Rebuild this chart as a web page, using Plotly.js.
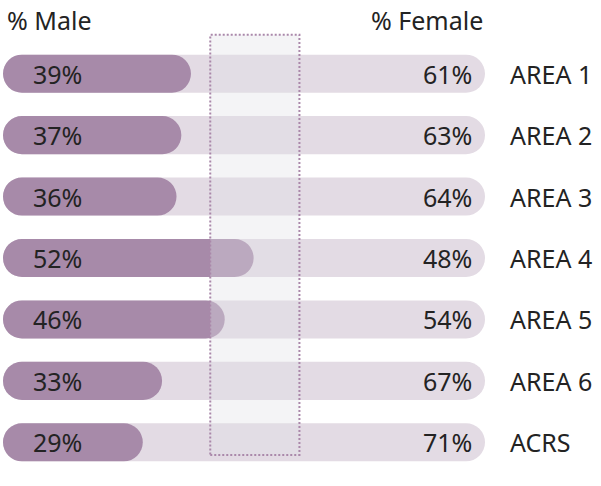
<!DOCTYPE html>
<html>
<head>
<meta charset="utf-8">
<script src="https://cdn.plot.ly/plotly-3.0.1.min.js"></script>
<style>html,body{margin:0;padding:0;background:#fff;}#chart{width:601px;height:486px;}</style>
</head>
<body>
<div id="chart"></div>
<script>
const areas = ["AREA 1", "AREA 2", "AREA 3", "AREA 4", "AREA 5", "AREA 6", "ACRS"];
const male = [39, 37, 36, 52, 46, 33, 29];
const female = [61, 63, 64, 48, 54, 67, 71];
const maleTitle = "% Male";
const femaleTitle = "% Female";

const FONT = "Noto Sans, Open Sans, sans-serif";
const textColor = "#232323";
const FS = 25;

// An explicit base makes Plotly round both ends of the bar (pill shape).
function pill(lengths, color) {
  return { type: "bar", orientation: "h", y: areas, x: lengths,
    base: lengths.map(() => 0), width: 0.62,
    marker: { color: color, cornerradius: "50%" }, hoverinfo: "skip" };
}

const totals = areas.map((a, i) => male[i] + female[i]);
const traces = [pill(totals, "#e3dbe4"), pill(male, "#a78aa9")];

const annotations = [];
areas.forEach((a, i) => {
  annotations.push({ xref: "x", yref: "y", x: 5.8, y: a, text: male[i] + "%", showarrow: false, xanchor: "left", yanchor: "middle", font: { family: FONT, size: FS, color: textColor } });
  annotations.push({ xref: "x", yref: "y", x: 97.8, y: a, text: female[i] + "%", showarrow: false, xanchor: "right", yanchor: "middle", font: { family: FONT, size: FS, color: textColor } });
  annotations.push({ xref: "paper", yref: "y", x: 1.048, y: a, text: a, showarrow: false, xanchor: "left", yanchor: "middle", font: { family: FONT, size: FS, color: textColor } });
});
annotations.push({ xref: "paper", yref: "paper", x: 0.0, y: 1.053, text: maleTitle, showarrow: false, xanchor: "left", yanchor: "middle", xshift: 2, font: { family: FONT, size: FS, color: textColor } });
annotations.push({ xref: "x", yref: "paper", x: 100, y: 1.053, text: femaleTitle, showarrow: false, xanchor: "right", yanchor: "middle", font: { family: FONT, size: FS, color: textColor } });

const layout = {
  width: 601, height: 486,
  margin: { l: 3, r: 116, t: 43, b: 13 },
  paper_bgcolor: "#ffffff", plot_bgcolor: "#ffffff",
  barmode: "overlay", showlegend: false, hovermode: false,
  xaxis: { range: [0, 100], visible: false, fixedrange: true },
  yaxis: { autorange: "reversed", visible: false, fixedrange: true },
  annotations: annotations,
  shapes: [{
    type: "rect", layer: "above", xref: "x", yref: "paper",
    x0: 43, x1: 61.5, y0: 0.042, y1: 1.019,
    fillcolor: "rgba(224,224,230,0.36)",
    line: { color: "#aa88aa", width: 2, dash: "2px,2px" }
  }]
};

Plotly.newPlot("chart", traces, layout, { displayModeBar: false, staticPlot: true });
</script>
</body>
</html>
